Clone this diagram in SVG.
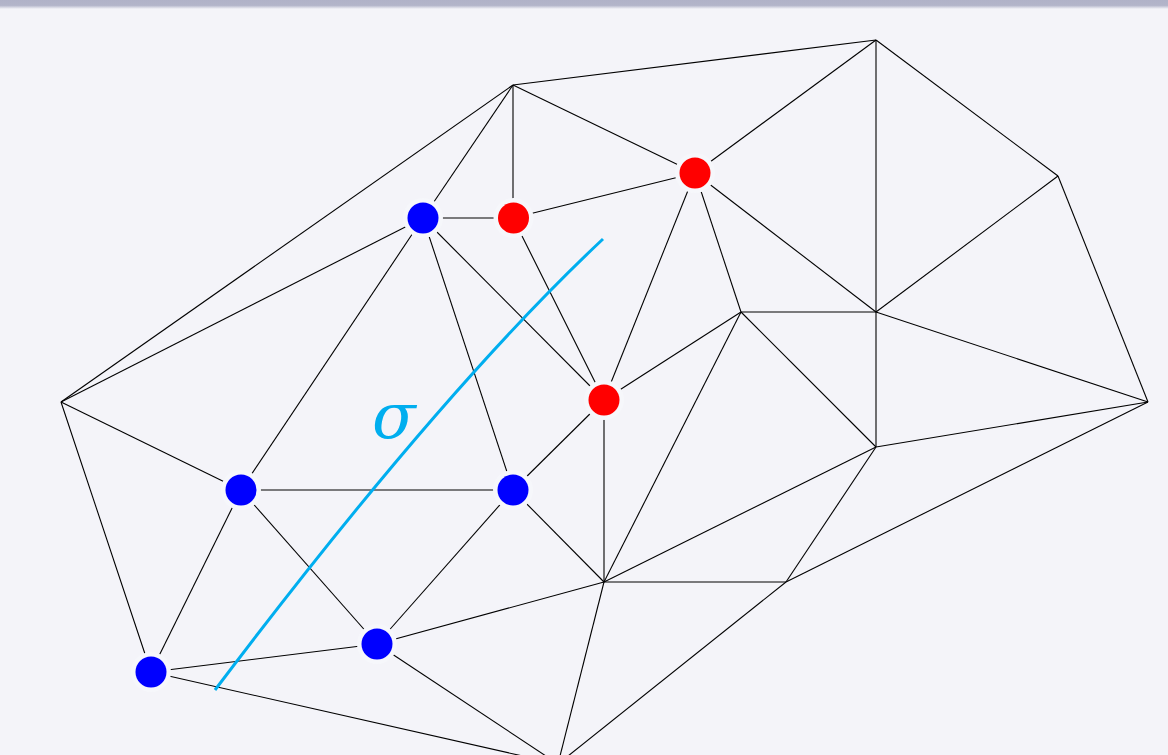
<svg xmlns="http://www.w3.org/2000/svg" width="1168" height="755" viewBox="0 0 1168 755">
<defs>
<linearGradient id="band" x1="0" y1="0" x2="0" y2="1">
<stop offset="0" stop-color="#b0b2c8"/>
<stop offset="0.6" stop-color="#b3b5ca"/>
<stop offset="1" stop-color="#f4f4f9"/>
</linearGradient>
<style>
.e{stroke:#000;stroke-width:1.1;fill:none}
.halo{fill:#f6f7fb}
.blue{fill:#0000ff}
.red{fill:#ff0000}
.sig{stroke:#00aeef;stroke-width:3;fill:none}
</style>
</defs>
<rect width="1168" height="755" fill="#f4f4f9"/>
<rect width="1168" height="9" fill="url(#band)"/>
<g id="connectors">
<line class="e" x1="61" y1="402" x2="513" y2="85"/>
<line class="e" x1="61" y1="402" x2="423" y2="218"/>
<line class="e" x1="61" y1="402" x2="241" y2="490"/>
<line class="e" x1="61" y1="402" x2="151" y2="672"/>
<line class="e" x1="513" y1="85" x2="876" y2="40"/>
<line class="e" x1="513" y1="85" x2="423" y2="218"/>
<line class="e" x1="513" y1="85" x2="513" y2="218"/>
<line class="e" x1="513" y1="85" x2="695" y2="173"/>
<line class="e" x1="876" y1="40" x2="695" y2="173"/>
<line class="e" x1="876" y1="40" x2="876" y2="312"/>
<line class="e" x1="876" y1="40" x2="1058" y2="176"/>
<line class="e" x1="1058" y1="176" x2="876" y2="312"/>
<line class="e" x1="1058" y1="176" x2="1148" y2="402"/>
<line class="e" x1="1148" y1="402" x2="876" y2="312"/>
<line class="e" x1="1148" y1="402" x2="876" y2="447"/>
<line class="e" x1="1148" y1="402" x2="786" y2="582"/>
<line class="e" x1="151" y1="672" x2="241" y2="490"/>
<line class="e" x1="151" y1="672" x2="377" y2="644"/>
<line class="e" x1="151" y1="672" x2="558" y2="764"/>
<line class="e" x1="377" y1="644" x2="558" y2="764"/>
<line class="e" x1="604" y1="582" x2="558" y2="764"/>
<line class="e" x1="786" y1="582" x2="558" y2="764"/>
<line class="e" x1="423" y1="218" x2="513" y2="218"/>
<line class="e" x1="423" y1="218" x2="241" y2="490"/>
<line class="e" x1="423" y1="218" x2="513" y2="490"/>
<line class="e" x1="423" y1="218" x2="604" y2="400"/>
<line class="e" x1="513" y1="218" x2="695" y2="173"/>
<line class="e" x1="513" y1="218" x2="604" y2="400"/>
<line class="e" x1="695" y1="173" x2="604" y2="400"/>
<line class="e" x1="695" y1="173" x2="741" y2="312"/>
<line class="e" x1="695" y1="173" x2="876" y2="312"/>
<line class="e" x1="604" y1="400" x2="741" y2="312"/>
<line class="e" x1="604" y1="400" x2="513" y2="490"/>
<line class="e" x1="604" y1="400" x2="604" y2="582"/>
<line class="e" x1="241" y1="490" x2="513" y2="490"/>
<line class="e" x1="241" y1="490" x2="377" y2="644"/>
<line class="e" x1="513" y1="490" x2="377" y2="644"/>
<line class="e" x1="513" y1="490" x2="604" y2="582"/>
<line class="e" x1="377" y1="644" x2="604" y2="582"/>
<line class="e" x1="741" y1="312" x2="876" y2="312"/>
<line class="e" x1="741" y1="312" x2="876" y2="447"/>
<line class="e" x1="741" y1="312" x2="604" y2="582"/>
<line class="e" x1="876" y1="312" x2="876" y2="447"/>
<line class="e" x1="876" y1="447" x2="604" y2="582"/>
<line class="e" x1="876" y1="447" x2="786" y2="582"/>
<line class="e" x1="604" y1="582" x2="786" y2="582"/>
</g>
<g id="n-H"><circle class="halo" cx="423" cy="218" r="20"/><circle class="blue" cx="423" cy="218" r="15.5"/></g>
<g id="n-I"><circle class="halo" cx="513.5" cy="218" r="20"/><circle class="red" cx="513.5" cy="218" r="15.5"/></g>
<g id="n-J"><circle class="halo" cx="695" cy="173" r="20"/><circle class="red" cx="695" cy="173" r="15.5"/></g>
<g id="n-K"><circle class="halo" cx="604" cy="400" r="20"/><circle class="red" cx="604" cy="400" r="15.5"/></g>
<g id="n-L"><circle class="halo" cx="241" cy="490" r="20"/><circle class="blue" cx="241" cy="490" r="15.5"/></g>
<g id="n-M"><circle class="halo" cx="513" cy="490" r="20"/><circle class="blue" cx="513" cy="490" r="15.5"/></g>
<g id="n-N"><circle class="halo" cx="377" cy="644" r="20"/><circle class="blue" cx="377" cy="644" r="15.5"/></g>
<g id="n-F"><circle class="halo" cx="151" cy="672" r="20"/><circle class="blue" cx="151" cy="672" r="15.5"/></g>
<g id="sigma">
<path class="sig" d="M215,690 Q440,392 603,239"/>
<text x="372" y="438" font-family="DejaVu Serif, serif" font-style="italic" font-size="64" fill="#00aeef">σ</text>
</g>
</svg>
